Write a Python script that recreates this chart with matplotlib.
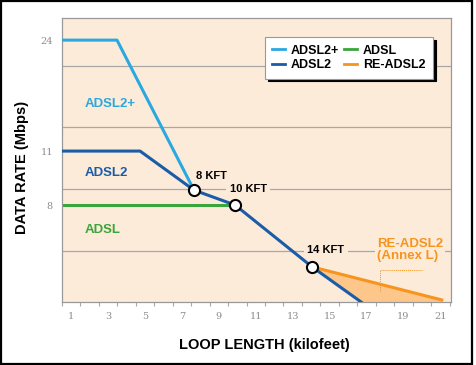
import matplotlib
matplotlib.use("Agg")
import matplotlib.pyplot as plt
import numpy as np
from matplotlib.patches import Rectangle

# data (x in kilofeet, y in Mbps)
adsl2p_x = [0.5, 3.48, 7.65]
adsl2p_y = [24, 24, 8.83]
adsl2_x = [0.5, 4.73, 7.65, 9.88, 14.05, 16.71]
adsl2_y = [11, 11, 8.83, 8, 2.9, 0]
adsl_x = [0.5, 9.88]
adsl_y = [8, 8]
re_x = [14.05, 21.08]
re_y = [2.9, 0.17]
knee_x = [7.65, 9.88, 14.05]
knee_y = [8.83, 8, 2.9]
knee_labels = ["8 KFT", "10 KFT", "14 KFT"]
ytick_vals = [8, 11, 24]
xtick_vals = list(range(1, 22, 2))

BG = "#fdebda"
C_ADSL2P = "#2aa8e0"
C_ADSL2 = "#1a5ca8"
C_ADSL = "#3aa53a"
C_RE = "#f7941d"
C_FILL = "#fdc68a"
GRAY = "#a8a8a8"

# the chart's rate axis is not linear: piecewise mapping through the labelled values
SCALE_V = [0, 8, 11, 24, 30]
SCALE_P = [0, 97, 151, 262, 313]


def fwd(v):
    return np.interp(v, SCALE_V, SCALE_P)


def inv(p):
    return np.interp(p, SCALE_P, SCALE_V)


plt.rcParams["font.family"] = ["Liberation Sans", "DejaVu Sans"]

fig = plt.figure(figsize=(4.77, 3.65), dpi=100)
ax = fig.add_axes([0.130, 0.1726, 0.8155, 0.778])
ax.set_facecolor(BG)
ax.set_yscale("function", functions=(fwd, inv))
ax.set_xlim(0.5, 21.58)
ax.set_ylim(0, 26.6)

ax.set_yticks(ytick_vals)
ax.set_yticklabels([str(v) for v in ytick_vals])
ax.set_yticks([4.2, 8.9, 13.8, 21], minor=True)
ax.grid(which="minor", axis="y", color=GRAY, lw=0.9, zorder=0)
ax.tick_params(axis="y", which="both", length=0, pad=6.5)
ax.set_xticks(xtick_vals)
ax.set_xticks(np.arange(0.5, 22, 1), minor=True)
ax.tick_params(axis="x", which="major", length=0, pad=7)
ax.tick_params(axis="x", which="minor", length=3, width=0.8, color=GRAY)
for lab in ax.get_xticklabels() + ax.get_yticklabels():
    lab.set_fontfamily("DejaVu Serif")
    lab.set_fontsize(7)
    lab.set_color("#8c8c8c")
for s in ax.spines.values():
    s.set_color("#999999")
    s.set_linewidth(0.9)

x_fill = np.array([14.05, 16.71, 21.08])
ax.fill_between(x_fill, np.interp(x_fill, re_x, re_y),
                np.interp(x_fill, adsl2_x, adsl2_y, right=0),
                color=C_FILL, lw=0, zorder=1)

ax.plot(adsl2p_x, adsl2p_y, color=C_ADSL2P, lw=2.2, label="ADSL2+", zorder=3)
ax.plot(adsl2_x, adsl2_y, color=C_ADSL2, lw=2.2, label="ADSL2", zorder=3)
ax.plot(adsl_x, adsl_y, color=C_ADSL, lw=2.2, label="ADSL", zorder=2)
ax.plot(re_x, re_y, color=C_RE, lw=2.2, label="RE-ADSL2", zorder=2)
ax.plot(knee_x, knee_y, ls="none", marker="o", ms=8, mfc="white", mec="black",
        mew=1.5, zorder=5)

lbl = dict(fontsize=9.5, fontweight="bold", va="center", ha="left")
ax.text(1.75, 16.5, "ADSL2+", color=C_ADSL2P, **lbl)
ax.text(1.75, 9.78, "ADSL2", color=C_ADSL2, **lbl)
ax.text(1.75, 5.94, "ADSL", color=C_ADSL, **lbl)

kft_pos = [(7.76, 9.61), (9.6, 8.89), (13.78, 4.29)]
for (tx, ty), s in zip(kft_pos, knee_labels):
    ax.text(tx, ty, s, fontsize=8, fontweight="bold", va="center", ha="left",
            zorder=4, bbox=dict(facecolor=BG, edgecolor="none", pad=2.5))

ax.text(17.57, 4.29, "RE-ADSL2\n(Annex L)", color=C_RE, fontsize=9.5,
        fontweight="bold", va="center", ha="left", linespacing=1.05, zorder=4,
        bbox=dict(facecolor=BG, edgecolor="none", pad=1.5))
ax.plot([20.01, 17.74, 17.74], [2.64, 2.64, 0.82], color=C_RE, lw=0.7,
        ls=(0, (1, 1)), zorder=2)

ax.set_ylabel("DATA RATE (Mbps)", fontsize=10.5, fontweight="bold")
ax.yaxis.set_label_coords(-0.103, 0.475)
ax.set_xlabel("LOOP LENGTH (kilofeet)", fontsize=10.5, fontweight="bold")
ax.xaxis.set_label_coords(0.519, -0.151)
ax.xaxis.label.set_va("center")
ax.yaxis.label.set_va("center")

leg = ax.legend(ncol=2, loc="upper right", bbox_to_anchor=(0.954, 0.933),
                borderaxespad=0, fancybox=False, handlelength=1.0,
                handletextpad=0.5, columnspacing=0.4, labelspacing=0.2,
                borderpad=0.6, prop=dict(weight="bold", size=9),
                shadow=dict(color="black", alpha=1.0))
leg.get_frame().set_edgecolor("#999999")
leg.get_frame().set_linewidth(0.8)
for h in leg.get_lines():
    h.set_linewidth(2)

fig.patches.append(Rectangle((0.002, 0.004), 472 / 477 - 0.002, 0.993,
                             transform=fig.transFigure, fill=False,
                             edgecolor="black", lw=1.6))

fig.savefig("out.png", dpi=100)
